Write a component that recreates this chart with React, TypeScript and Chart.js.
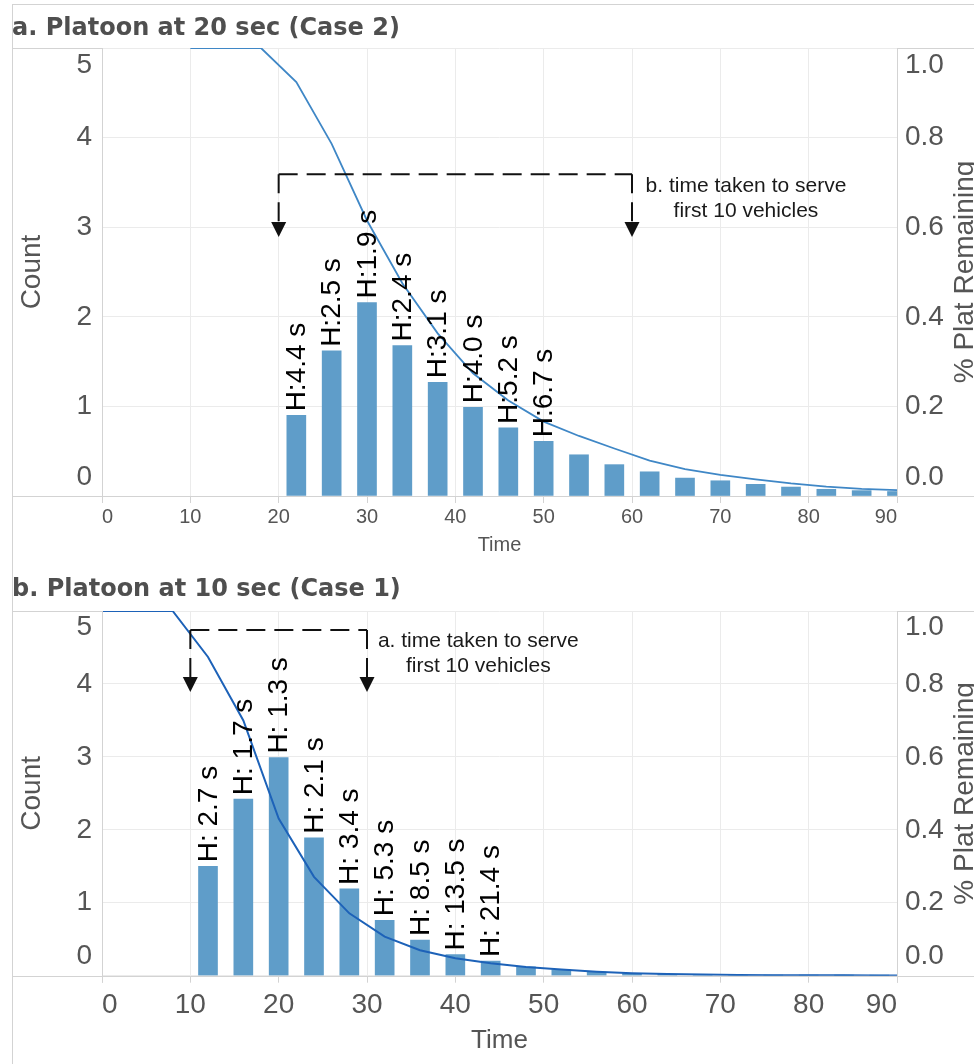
import React, { useEffect, useRef } from "react";
import { Chart, registerables } from "chart.js";

Chart.register(...registerables);

const FONT = '"Liberation Sans", Arial, sans-serif';
const TITLE_FONT = '"DejaVu Sans", Verdana, sans-serif';

// ---------- Panel a: Platoon at 20 sec (Case 2) ----------
const binsA = [22, 26, 30, 34, 38, 42, 46, 50, 54, 58, 62, 66, 70, 74, 78, 82, 86, 90];
const countsA = [0.9, 1.62, 2.16, 1.68, 1.27, 0.99, 0.76, 0.61, 0.46, 0.35, 0.27, 0.2, 0.17, 0.13, 0.1, 0.075, 0.06, 0.05];
const headwayA = ["H:4.4 s", "H:2.5 s", "H:1.9 s", "H:2.4 s", "H:3.1 s", "H:4.0 s", "H:5.2 s", "H:6.7 s"];
const lineTimeA = [10, 14, 18, 22, 26, 30, 34, 38, 42, 46, 50, 54, 58, 62, 66, 70, 74, 78, 82, 86, 90];
const remainA = [1, 1, 1, 0.924, 0.786, 0.615, 0.475, 0.363, 0.274, 0.213, 0.166, 0.134, 0.106, 0.079, 0.06, 0.047, 0.037, 0.028, 0.021, 0.016, 0.013];
const titleA = "a. Platoon at 20 sec (Case 2)";
const noteA = ["b. time taken to serve", "first 10 vehicles"];
const bracketA = { x1: 20, x2: 60, yTop: 3.59, yTip: 2.89, textX: 72.9, textY: [3.46, 3.18] };

// ---------- Panel b: Platoon at 10 sec (Case 1) ----------
const binsB = [12, 16, 20, 24, 28, 32, 36, 40, 44, 48, 52, 56, 60, 64, 68, 72, 76, 80, 84, 88];
const countsB = [1.5, 2.42, 2.99, 1.89, 1.19, 0.76, 0.49, 0.29, 0.2, 0.12, 0.08, 0.05, 0.03, 0.02, 0.015, 0.01, 0.008, 0.006, 0.005, 0.004];
const headwayB = ["H: 2.7 s", "H: 1.7 s", "H: 1.3 s", "H: 2.1 s", "H: 3.4 s", "H: 5.3 s", "H: 8.5 s", "H: 13.5 s", "H: 21.4 s"];
const lineTimeB = [0, 4, 8, 12, 16, 20, 24, 28, 32, 36, 40, 44, 48, 52, 56, 60, 64, 68, 72, 76, 80, 84, 88, 90];
const remainB = [1, 1, 1, 0.874, 0.7, 0.431, 0.271, 0.171, 0.107, 0.07, 0.048, 0.034, 0.024, 0.017, 0.011, 0.007, 0.005, 0.003, 0.002, 0.0015, 0.001, 0.001, 0.0008, 0.0007];
const titleB = "b. Platoon at 10 sec (Case 1)";
const noteB = ["a. time taken to serve", "first 10 vehicles"];
const bracketB = { x1: 10, x2: 30, yTop: 4.74, yTip: 3.89, textX: 42.6, textY: [4.58, 4.24] };

const xTitle = "Time";
const yTitle = "Count";
const y1Title = "% Plat Remaining";

const BAR_COLOR = "rgb(95,157,201)";
const TEXT_GRAY = "#555555";
const AXIS_GRAY = "#d3d3d3";
const GRID_GRAY = "#ebebeb";

const W = 974;

const decoPlugin = {
  id: "deco",
  afterDatasetsDraw(chart: any, _args: any, opts: any) {
    const ctx = chart.ctx;
    const xs = chart.scales.x;
    const ys = chart.scales.y;
    // bar value labels (rotated)
    const meta = chart.getDatasetMeta(1);
    ctx.save();
    ctx.font = `28px ${FONT}`;
    ctx.fillStyle = "#000";
    ctx.textAlign = "left";
    ctx.textBaseline = "middle";
    opts.labels.forEach((txt: string, i: number) => {
      const el = meta.data[i];
      if (!el) return;
      ctx.save();
      ctx.translate(el.x + 1, el.y - 4);
      ctx.rotate(-Math.PI / 2);
      ctx.fillText(txt, 0, 0);
      ctx.restore();
    });
    ctx.restore();

    // bracket annotation
    const b = opts.bracket;
    const xa = xs.getPixelForValue(b.x1);
    const xb = xs.getPixelForValue(b.x2);
    const yt = ys.getPixelForValue(b.yTop);
    const ytip = ys.getPixelForValue(b.yTip);
    ctx.save();
    ctx.strokeStyle = "#111";
    ctx.fillStyle = "#111";
    ctx.lineWidth = 2;
    ctx.setLineDash([19, 9]);
    ctx.beginPath();
    ctx.moveTo(xa, yt);
    ctx.lineTo(xa, ytip - 14);
    ctx.stroke();
    ctx.beginPath();
    ctx.moveTo(xa, yt);
    ctx.lineTo(xb, yt);
    ctx.stroke();
    ctx.beginPath();
    ctx.moveTo(xb, yt);
    ctx.lineTo(xb, ytip - 14);
    ctx.stroke();
    ctx.setLineDash([]);
    [xa, xb].forEach((x) => {
      ctx.beginPath();
      ctx.moveTo(x - 7.5, ytip - 15);
      ctx.lineTo(x + 7.5, ytip - 15);
      ctx.lineTo(x, ytip);
      ctx.closePath();
      ctx.fill();
    });
    ctx.font = `21px ${FONT}`;
    ctx.fillStyle = "#1a1a1a";
    ctx.textAlign = "center";
    ctx.textBaseline = "middle";
    opts.note.forEach((t: string, i: number) => {
      ctx.fillText(t, xs.getPixelForValue(b.textX), ys.getPixelForValue(b.textY[i]));
    });
    ctx.restore();
  },
  afterDraw(chart: any, _args: any, opts: any) {
    const ctx = chart.ctx;
    const { left, right, top, bottom } = chart.chartArea;
    const ys = chart.scales.y;
    const y1 = chart.scales.y1;
    ctx.save();
    // frame lines
    ctx.strokeStyle = AXIS_GRAY;
    ctx.lineWidth = 1;
    ctx.beginPath();
    ctx.moveTo(12, Math.round(bottom) + 0.5);
    ctx.lineTo(W, Math.round(bottom) + 0.5);
    ctx.moveTo(12, Math.round(top) + 0.5);
    ctx.lineTo(left, Math.round(top) + 0.5);
    ctx.moveTo(right, Math.round(top) + 0.5);
    ctx.lineTo(W, Math.round(top) + 0.5);
    ctx.moveTo(Math.round(left) + 0.5, top);
    ctx.lineTo(Math.round(left) + 0.5, bottom + 7);
    ctx.moveTo(Math.round(right) + 0.5, top);
    ctx.lineTo(Math.round(right) + 0.5, bottom + 7);
    ctx.moveTo(12.5, opts.frameTop);
    ctx.lineTo(12.5, chart.height);
    if (opts.frameTop > 0) {
      ctx.moveTo(12, opts.frameTop + 0.5);
      ctx.lineTo(W, opts.frameTop + 0.5);
    }
    ctx.stroke();

    // y tick labels (kept inside the pane)
    ctx.font = `28px ${FONT}`;
    ctx.fillStyle = TEXT_GRAY;
    ctx.textBaseline = "middle";
    const clampY = (p: number) => Math.min(Math.max(p, top + opts.topInset), bottom - 19);
    ctx.textAlign = "right";
    ys.ticks.forEach((t: any, i: number) => {
      ctx.fillText(String(t.value), left - 10, clampY(ys.getPixelForTick(i)));
    });
    ctx.textAlign = "left";
    y1.ticks.forEach((t: any, i: number) => {
      ctx.fillText(Number(t.value).toFixed(1), right + 8, clampY(y1.getPixelForTick(i)));
    });
    // right axis title
    ctx.save();
    ctx.translate(W - 9, (top + bottom) / 2);
    ctx.rotate(-Math.PI / 2);
    ctx.textAlign = "center";
    ctx.fillText(y1Title, 0, 0);
    ctx.restore();
    // panel title
    ctx.font = `bold 24px ${TITLE_FONT}`;
    ctx.fillStyle = "#4f4f4f";
    ctx.textAlign = "left";
    ctx.textBaseline = "alphabetic";
    ctx.fillText(opts.title, 12, opts.titleY);
    ctx.restore();
  },
};

type PanelProps = {
  top: number;
  height: number;
  areaTop: number;
  xAxisH: number;
  bins: number[];
  counts: number[];
  lineT: number[];
  lineV: number[];
  lineColor: string;
  lineWidth: number;
  labels: string[];
  bracket: any;
  note: string[];
  title: string;
  titleY: number;
  frameTop: number;
  topInset: number;
  xFont: number;
  xPad: number;
  xTitleFont: number;
  xTitlePad: number;
};

function Panel(p: PanelProps) {
  const ref = useRef<HTMLCanvasElement>(null);
  useEffect(() => {
    const chart = new Chart(ref.current as HTMLCanvasElement, {
      type: "bar",
      data: {
        datasets: [
          {
            type: "line",
            label: y1Title,
            yAxisID: "y1",
            data: p.lineT.map((t, i) => ({ x: t, y: p.lineV[i] })),
            borderColor: p.lineColor,
            borderWidth: p.lineWidth,
            pointRadius: 0,
            tension: 0,
            fill: false,
            order: 0,
          } as any,
          {
            type: "bar",
            label: yTitle,
            yAxisID: "y",
            data: p.bins.map((b, i) => ({ x: b, y: p.counts[i] })),
            backgroundColor: BAR_COLOR,
            borderWidth: 0,
            barThickness: 19,
            clip: 0,
            order: 1,
          } as any,
        ],
      },
      options: {
        responsive: false,
        animation: false,
        devicePixelRatio: 1,
        layout: { padding: { top: p.areaTop, left: 0, right: 0, bottom: 0 } },
        plugins: {
          legend: { display: false },
          tooltip: { enabled: false },
          deco: {
            labels: p.labels,
            bracket: p.bracket,
            note: p.note,
            title: p.title,
            titleY: p.titleY,
            frameTop: p.frameTop,
            topInset: p.topInset,
          },
        } as any,
        scales: {
          x: {
            type: "linear",
            position: "bottom",
            min: 0,
            max: 90,
            offset: false,
            ticks: {
              stepSize: 10,
              align: "inner",
              maxRotation: 0,
              color: TEXT_GRAY,
              padding: p.xPad,
              font: { family: FONT, size: p.xFont },
            },
            grid: { color: GRID_GRAY, tickColor: AXIS_GRAY, tickLength: 7, offset: false },
            border: { display: false },
            title: {
              display: true,
              text: xTitle,
              color: TEXT_GRAY,
              font: { family: FONT, size: p.xTitleFont },
              padding: { top: 0, bottom: p.xTitlePad },
            },
            afterFit: (s: any) => {
              s.height = p.xAxisH;
            },
          } as any,
          y: {
            type: "linear",
            position: "left",
            min: 0,
            max: 5,
            ticks: { stepSize: 1, display: false },
            grid: { color: GRID_GRAY, drawTicks: false },
            border: { display: false },
            title: {
              display: true,
              text: yTitle,
              color: TEXT_GRAY,
              font: { family: FONT, size: 28 },
              padding: { top: 15, bottom: 0 },
            },
            afterFit: (s: any) => {
              s.width = 102;
            },
          } as any,
          y1: {
            type: "linear",
            position: "right",
            min: 0,
            max: 1,
            ticks: { stepSize: 0.2, display: false },
            grid: { display: false },
            border: { display: false },
            afterFit: (s: any) => {
              s.width = 77;
            },
          } as any,
        },
      },
      plugins: [decoPlugin as any],
    });
    return () => chart.destroy();
  }, []);
  return (
    <canvas
      ref={ref}
      width={W}
      height={p.height}
      style={{ position: "absolute", left: 0, top: p.top, width: W, height: p.height, display: "block" }}
    />
  );
}

export default function App() {
  return (
    <div
      style={{
        position: "fixed",
        left: 0,
        top: 0,
        width: W,
        height: 1064,
        overflow: "hidden",
        background: "#ffffff",
      }}
    >
      <Panel
        top={0}
        height={560}
        areaTop={48}
        xAxisH={64}
        bins={binsA}
        counts={countsA}
        lineT={lineTimeA}
        lineV={remainA}
        lineColor="#3f87c6"
        lineWidth={1.8}
        labels={headwayA}
        bracket={bracketA}
        note={noteA}
        title={titleA}
        titleY={35}
        frameTop={4}
        topInset={17}
        xFont={20}
        xPad={2}
        xTitleFont={20}
        xTitlePad={3}
      />
      <Panel
        top={560}
        height={504}
        areaTop={51}
        xAxisH={88.3}
        bins={binsB}
        counts={countsB}
        lineT={lineTimeB}
        lineV={remainB}
        lineColor="#1d62b8"
        lineWidth={2}
        labels={headwayB}
        bracket={bracketB}
        note={noteB}
        title={titleB}
        titleY={36}
        frameTop={0}
        topInset={16}
        xFont={28}
        xPad={6}
        xTitleFont={26}
        xTitlePad={8}
      />
    </div>
  );
}
